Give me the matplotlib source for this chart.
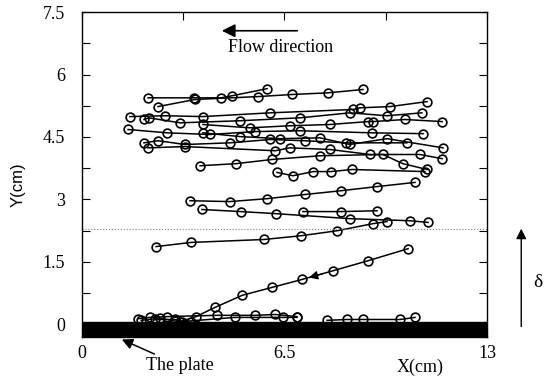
import matplotlib
matplotlib.use("Agg")
import matplotlib.pyplot as plt

plt.rcParams['font.family'] = ['Liberation Serif', 'DejaVu Serif']

# particle trajectories, x and y in cm
tracks_x = [
    [2.12, 3.60, 4.46, 4.82, 5.94],
    [2.44, 3.63, 5.65, 6.74, 7.90, 9.02],
    [1.54, 2.66, 3.88, 6.04, 8.70, 8.92, 9.89, 11.08],
    [1.99, 2.15, 3.15, 5.07, 7.00, 8.60, 9.79, 10.91],
    [3.88, 5.39, 6.68, 7.96, 9.18, 9.34, 10.37, 11.56],
    [1.48, 2.73, 4.11, 5.55, 7.00, 9.31, 10.95],
    [3.88, 5.07, 6.36, 7.64, 8.60, 9.79, 11.59],
    [1.99, 2.44, 3.31, 4.75, 6.04, 7.16, 8.48, 10.43],
    [2.12, 3.31, 6.20, 6.68, 7.96, 9.25, 10.85, 11.56],
    [3.79, 4.94, 6.10, 7.64, 9.66, 10.30, 11.08],
    [6.26, 6.77, 7.42, 7.99, 8.67, 11.01],
    [3.47, 4.75, 5.94, 7.16, 8.31, 9.47, 10.69],
    [3.85, 5.10, 6.23, 8.60, 10.53, 11.11],
    [7.09, 8.31, 9.47],
    [2.38, 3.50, 5.84, 7.03, 8.19, 9.34, 9.79],
    [10.47, 9.18, 8.06, 7.06, 6.10, 5.14, 4.27, 3.66, 3.15],
    [1.80, 2.18, 2.73, 4.33, 5.55, 6.20, 6.90],
    [2.34, 2.99, 3.21, 4.91, 6.45, 6.90],
    [7.87, 8.51, 9.02, 10.21, 10.69],
    [1.90, 2.50, 3.00, 3.50],
]
tracks_y = [
    [5.44, 5.44, 5.44, 5.49, 5.66],
    [5.23, 5.40, 5.47, 5.52, 5.56, 5.64],
    [4.99, 5.01, 4.99, 5.08, 5.16, 5.20, 5.23, 5.35],
    [4.92, 4.96, 4.84, 4.89, 4.96, 5.08, 5.01, 5.08],
    [4.80, 4.72, 4.77, 4.80, 4.87, 4.87, 4.92, 4.87],
    [4.68, 4.60, 4.56, 4.63, 4.65, 4.60, 4.58],
    [4.60, 4.51, 4.46, 4.48, 4.32, 4.46, 4.24],
    [4.36, 4.41, 4.32, 4.36, 4.44, 4.41, 4.36, 4.36],
    [4.24, 4.27, 4.17, 4.24, 4.20, 4.08, 4.08, 3.98],
    [3.81, 3.86, 3.96, 4.05, 4.08, 3.86, 3.72],
    [3.65, 3.57, 3.67, 3.67, 3.72, 3.67],
    [2.97, 2.95, 3.02, 3.12, 3.21, 3.31, 3.41],
    [2.76, 2.71, 2.66, 2.54, 2.49, 2.45],
    [2.71, 2.71, 2.73],
    [1.87, 1.97, 2.04, 2.13, 2.25, 2.42, 2.47],
    [1.82, 1.53, 1.29, 1.08, 0.89, 0.70, 0.41, 0.19, 0.07],
    [0.14, 0.17, 0.19, 0.22, 0.22, 0.24, 0.19],
    [0.12, 0.12, 0.07, 0.17, 0.17, 0.17],
    [0.10, 0.12, 0.12, 0.12, 0.17],
    [0.10, 0.15, 0.08, 0.05],
]
delta = 2.3          # boundary layer thickness
plate_top = 0.06

x_ticks = [0, 6.5, 13]
x_labels = ['0', '6.5', '13']
y_ticks = [0, 1.5, 3, 4.5, 6, 7.5]
y_labels = ['0', '1.5', '3', '4.5', '6', '7.5']

fig = plt.figure(figsize=(5.51, 3.81), dpi=100)
ax = fig.add_axes([0.1488, 0.1155, 0.735, 0.853])

for xs, ys in zip(tracks_x, tracks_y):
    ax.plot(xs, ys, '-', color='black', lw=1.1, marker='o', ms=6.3,
            mfc='none', mec='black', mew=1.2)

# arrow on the descending track
ax.annotate('', xy=(7.2, 1.11), xytext=(7.8, 1.23),
            arrowprops=dict(arrowstyle='-|>', color='black', lw=0.9,
                            mutation_scale=13))

ax.axhline(delta, color='gray', lw=0.8, ls=':')
ax.axhspan(-0.3, plate_top, color='black', zorder=5)

ax.set_xlim(0, 13)
ax.set_ylim(-0.3, 7.5)
ax.set_xticks(x_ticks)
ax.set_xticklabels(x_labels)
ax.set_xticks([3.25, 9.75], minor=True)
ax.set_yticks(y_ticks)
ax.set_yticklabels(y_labels)
ax.set_yticks([0.75, 2.25, 3.75, 5.25, 6.75], minor=True)
ax.tick_params(which='both', direction='in', top=True, right=True,
               length=6, width=0.8, labelsize=13)
ax.tick_params(axis='y', pad=12)
ax.tick_params(axis='x', pad=6)
for s in ax.spines.values():
    s.set_linewidth(1.0)

# flow direction
ax.annotate('', xy=(4.4, 7.05), xytext=(7.0, 7.05),
            arrowprops=dict(arrowstyle='-|>', color='black', lw=1.2,
                            mutation_scale=20))
ax.text(6.36, 6.64, 'Flow direction', fontsize=13, ha='center', va='center')

# the plate
ax.annotate('The plate', xy=(1.28, -0.36), xytext=(2.05, -0.98),
            fontsize=13, ha='left', va='center', annotation_clip=False,
            arrowprops=dict(arrowstyle='-|>', color='black', lw=1.1,
                            mutation_scale=16, shrinkA=0, shrinkB=0))

# delta arrow outside the axes
ax.annotate('', xy=(14.1, delta), xytext=(14.1, -0.05),
            annotation_clip=False,
            arrowprops=dict(arrowstyle='-|>', color='black', lw=1.0,
                            mutation_scale=15, shrinkA=0, shrinkB=0))
ax.text(14.62, 1.0, 'δ', fontsize=14, ha='center', va='center', clip_on=False)

fig.text(420 / 551, 1 - 367 / 381, 'X(cm)', fontsize=13, ha='center', va='center')
fig.text(18 / 551, 1 - 185 / 381, 'Y(cm)', fontsize=12, ha='center', va='center',
         rotation=90, family=['Liberation Sans', 'DejaVu Sans'])

fig.savefig('out.png', dpi=100)
